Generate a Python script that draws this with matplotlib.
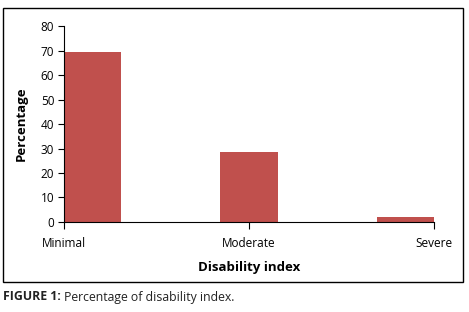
import matplotlib
matplotlib.use('Agg')
import matplotlib.pyplot as plt
from matplotlib.patches import Rectangle

plt.rcParams['font.family'] = ['Open Sans', 'DejaVu Sans']

# data
categories = ['Minimal', 'Moderate', 'Severe']
values = [69.4, 28.6, 2.0]
yticks = [0, 10, 20, 30, 40, 50, 60, 70, 80]

fig = plt.figure(figsize=(4.69, 3.12), dpi=100)
ax = fig.add_axes([0.1365, 0.2885, 0.789, 0.628])

# bars sit left, centre and right of their tick like the original
w = 0.31
offsets = [0, -w / 2, -w]
x = list(range(len(categories)))
lefts = [xi + o for xi, o in zip(x, offsets)]
ax.bar(lefts, values, width=w, align='edge', color='#C0504D')

ax.set_xlim(0, len(categories) - 1)
ax.set_ylim(0, 80)
ax.set_yticks(yticks)
ax.set_xticks(x)
ax.set_xticklabels(categories, fontsize=8.5)
ax.tick_params(axis='y', labelsize=8.5, length=4, width=0.8, pad=3)
ax.tick_params(axis='x', length=5, width=0.8, pad=6)
for s in ['top', 'right']:
    ax.spines[s].set_visible(False)
ax.spines['left'].set_linewidth(0.8)
ax.spines['bottom'].set_linewidth(0.8)
ax.set_ylabel('Percentage', fontsize=9.5, fontweight='bold', labelpad=9)
ax.set_xlabel('Disability index', fontsize=9.5, fontweight='bold', labelpad=8)

# frame round the figure
fig.patches.append(Rectangle((3 / 469, 1 - 282 / 312), 460 / 469, 274 / 312,
                             transform=fig.transFigure, fill=False,
                             edgecolor='black', linewidth=1))

# caption
t1 = fig.text(3 / 469, 1 - 297 / 312, 'FIGURE 1:', fontsize=8.8,
              fontweight='bold', va='center', color='#222222')
fig.canvas.draw()
bb = t1.get_window_extent()
fig.text(bb.x1 / 469 + 3 / 469, 1 - 297 / 312, 'Percentage of disability index.',
         fontsize=8.8, va='center', color='#222222')

fig.savefig('out.png', dpi=100)
